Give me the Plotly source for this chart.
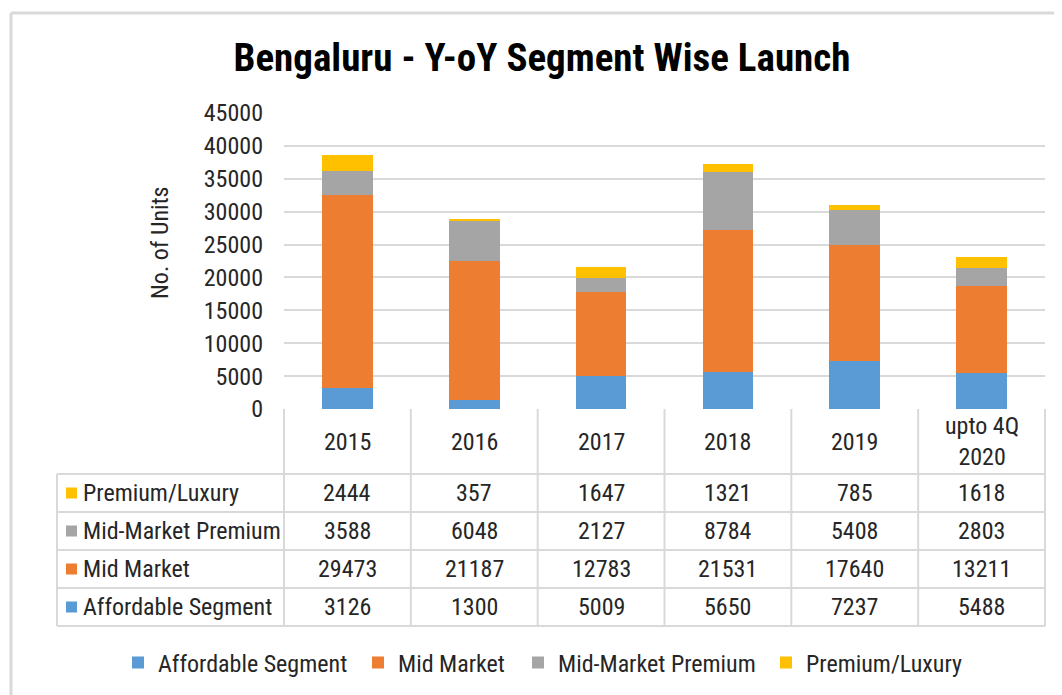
import plotly.graph_objects as go

categories = ["2015", "2016", "2017", "2018", "2019", "upto 4Q<br>2020"]
series_names = ["Affordable Segment", "Mid Market", "Mid-Market Premium", "Premium/Luxury"]
affordable = [3126, 1300, 5009, 5650, 7237, 5488]
mid_market = [29473, 21187, 12783, 21531, 17640, 13211]
mid_premium = [3588, 6048, 2127, 8784, 5408, 2803]
premium_luxury = [2444, 357, 1647, 1321, 785, 1618]
colors = ["#5B9BD5", "#ED7D31", "#A5A5A5", "#FFC000"]
y_ticks = [0, 5000, 10000, 15000, 20000, 25000, 30000, 35000, 40000, 45000]

series_values = [affordable, mid_market, mid_premium, premium_luxury]
legend_entry_widths = [195, 115, 203, 160]

FONT = "Liberation Sans Narrow, Arial Narrow, Roboto Condensed, Liberation Sans, Arial, sans-serif"
OFF = 8  # page body margin
W, H = 1062, 695
GRID = "#D9D9D9"
TXT = "#262626"

def fx(px):  # reference pixel -> figure pixel
    return px - OFF

L, R, T, B = fx(284), fx(1045), fx(113), fx(409)

def px_x(px):
    return (fx(px) - L) / (R - L)

def px_y(py):
    return (B - fx(py)) / (B - T)

fig = go.Figure()
for name, vals, col, lw in zip(series_names, series_values, colors, legend_entry_widths):
    fig.add_trace(go.Bar(
        x=list(range(len(categories))), y=vals, name=name,
        marker=dict(color=col, line=dict(width=0)),
        width=0.4, legendwidth=lw,
    ))

shapes = []
annotations = []

# Table geometry (reference pixels)
header_bottom = 474
row_lines = [474, 512, 550, 588, 626]
table_left = 57
ncat = len(categories)

def hline(y, x0, x1):
    shapes.append(dict(type="line", xref="paper", yref="paper",
                       x0=px_x(x0), x1=px_x(x1), y0=px_y(y), y1=px_y(y),
                       line=dict(color=GRID, width=2), layer="above"))

def vline(x, y0, y1, xpaper=None):
    xp = xpaper if xpaper is not None else px_x(x)
    shapes.append(dict(type="line", xref="paper", yref="paper",
                       x0=xp, x1=xp, y0=px_y(y0), y1=px_y(y1),
                       line=dict(color=GRID, width=2), layer="above"))

for y in row_lines:
    hline(y, table_left, 1045)
for i in range(ncat + 1):
    vline(None, 409, row_lines[-1], xpaper=i / ncat)
vline(table_left, row_lines[0], row_lines[-1])

# header labels
for i, c in enumerate(categories):
    annotations.append(dict(xref="paper", yref="paper", x=(i + 0.5) / ncat,
                            y=px_y((409 + header_bottom) / 2), text=c, showarrow=False,
                            font=dict(family=FONT, size=24, color=TXT),
                            xanchor="center", yanchor="middle"))

# table rows: top row is Premium/Luxury, down to Affordable
row_order = [3, 2, 1, 0]
for r, si in enumerate(row_order):
    yc = (row_lines[r] + row_lines[r + 1]) / 2
    shapes.append(dict(type="rect", xref="paper", yref="paper",
                       x0=px_x(66), x1=px_x(77), y0=px_y(yc + 5.5), y1=px_y(yc - 5.5),
                       fillcolor=colors[si], line=dict(width=0)))
    annotations.append(dict(xref="paper", yref="paper", x=px_x(81), y=px_y(yc),
                            text=series_names[si], showarrow=False,
                            font=dict(family=FONT, size=24, color=TXT),
                            xanchor="left", yanchor="middle"))
    for i, v in enumerate(series_values[si]):
        annotations.append(dict(xref="paper", yref="paper", x=(i + 0.5) / ncat, y=px_y(yc),
                                text=str(v), showarrow=False,
                                font=dict(family=FONT, size=24, color=TXT),
                                xanchor="center", yanchor="middle"))

# y-axis title
annotations.append(dict(xref="paper", yref="paper", x=px_x(160), y=px_y(243),
                        text="No. of Units", textangle=-90, showarrow=False,
                        font=dict(family=FONT, size=24, color=TXT),
                        xanchor="center", yanchor="middle"))

# outer frame
shapes.append(dict(type="line", xref="paper", yref="paper",
                   x0=px_x(11), x1=px_x(1075), y0=px_y(13), y1=px_y(13),
                   line=dict(color=GRID, width=3)))
shapes.append(dict(type="line", xref="paper", yref="paper",
                   x0=px_x(11), x1=px_x(11), y0=px_y(13), y1=px_y(710),
                   line=dict(color=GRID, width=3)))

fig.update_layout(
    width=W, height=H,
    margin=dict(l=L, r=W - R, t=T, b=H - B, pad=0),
    paper_bgcolor="white", plot_bgcolor="white",
    barmode="stack",
    title=dict(text="<b>Bengaluru - Y-oY Segment Wise Launch</b>",
               x=fx(542) / W, xanchor="center", y=1 - fx(57) / H, yanchor="middle",
               font=dict(family=FONT, size=39, color="#000000")),
    xaxis=dict(range=[-0.5, ncat - 0.5], showticklabels=False, showgrid=False,
               zeroline=False, showline=False, fixedrange=True),
    yaxis=dict(range=[0, 45000], tickvals=y_ticks, tickformat="d", showgrid=True,
               gridcolor=GRID, gridwidth=2, zeroline=False, showline=False,
               ticklabelstandoff=20,
               tickfont=dict(family=FONT, size=24, color=TXT), fixedrange=True),
    legend=dict(orientation="h", xref="paper", yref="paper",
                x=px_x(118), xanchor="left", y=px_y(663), yanchor="middle",
                traceorder="normal",
                font=dict(family=FONT, size=24, color=TXT),
                itemwidth=30),
    shapes=shapes,
    annotations=annotations,
    showlegend=True,
)

fig.write_html("out.html")
